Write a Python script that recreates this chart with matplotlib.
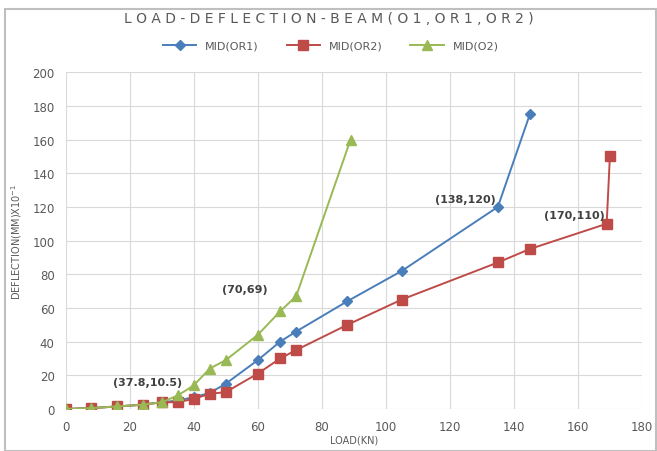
import matplotlib.pyplot as plt
from matplotlib.patches import Rectangle

# load (kN) and mid-span deflection (mm x 10^-1)
load_or1 = [0, 8, 16, 24, 30, 35, 40, 45, 50, 60, 67, 72, 88, 105, 135, 145]
defl_or1 = [0, 0.5, 1.5, 2.5, 4, 5, 7, 9.5, 15, 29, 40, 46, 64, 82, 120, 175]

load_or2 = [0, 8, 16, 24, 30, 35, 40, 45, 50, 60, 67, 72, 88, 105, 135, 145, 169, 170]
defl_or2 = [0, 0.5, 1.5, 2.5, 4, 4, 6, 9, 10, 21, 30, 35, 50, 65, 87, 95, 110, 150]

load_o2 = [0, 8, 16, 24, 30, 35, 40, 45, 50, 60, 67, 72, 89]
defl_o2 = [0, 0.5, 1.5, 2.5, 4, 8, 14, 24, 29, 44, 58, 67, 160]

labels = ['(37.8,10.5)', '(70,69)', '(138,120)', '(170,110)']
label_pos = [(25.5, 16), (56, 71), (125, 124.5), (159, 115)]

blue = '#4A7EBB'
red = '#BE4B48'
green = '#98B954'
grey = '#595959'

fig = plt.figure(figsize=(6.57, 4.52), dpi=100)
ax = fig.add_axes([0.100, 0.093, 0.877, 0.745])

ax.plot(load_or1, defl_or1, color=blue, marker='D', markersize=5.5, lw=1.4, label='MID(OR1)')
ax.plot(load_or2, defl_or2, color=red, marker='s', markersize=6.5, lw=1.4, label='MID(OR2)')
ax.plot(load_o2, defl_o2, color=green, marker='^', markersize=6.5, lw=1.4, label='MID(O2)')

for txt, (x, y) in zip(labels, label_pos):
    ax.text(x, y, txt, ha='center', va='center', fontsize=8, color='#404040', fontweight='bold')

ax.set_xlim(0, 180)
ax.set_ylim(0, 200)
ax.set_xticks(range(0, 181, 20))
ax.set_yticks(range(0, 201, 20))
ax.grid(True, color='#D9D9D9', lw=0.8)
ax.set_axisbelow(True)
for s in ax.spines.values():
    s.set_visible(False)
ax.tick_params(length=0, labelsize=8.5, colors=grey, pad=8)

ax.set_xlabel('LOAD(KN)', fontsize=7, color=grey, labelpad=1)
ax.set_ylabel('DEFLECTION(MM)X10$^{-1}$', fontsize=7, color=grey, labelpad=6)

fig.text(0.50, 0.958, 'L O A D - D E F L E C T I O N - B E A M ( O 1 , O R 1 , O R 2 )',
         ha='center', va='center', fontsize=10, color=grey)
ax.legend(loc='center', bbox_to_anchor=(0.46, 1.078), ncol=3, frameon=False,
          fontsize=8, labelcolor=grey, handlelength=3, columnspacing=2.5)

fig.patches.append(Rectangle((0.008, 0.0), 0.99, 0.978, transform=fig.transFigure,
                             fill=False, edgecolor='#BFBFBF', lw=1.5))

fig.savefig('out.png', dpi=100)
